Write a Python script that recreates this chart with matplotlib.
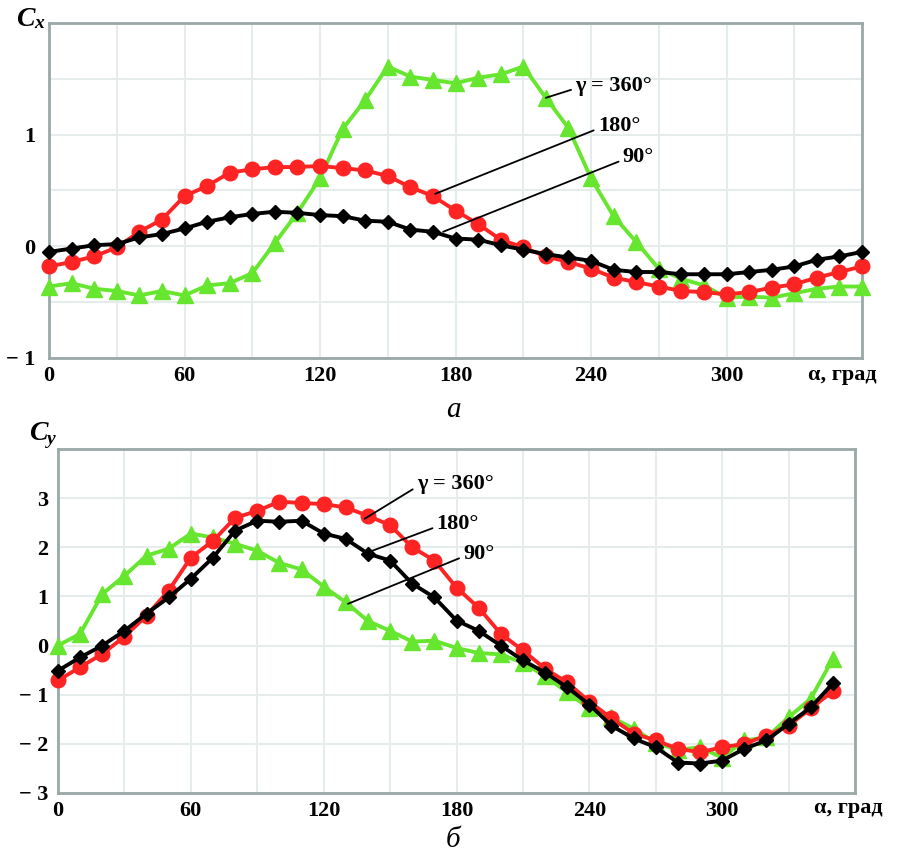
import numpy as np
import matplotlib
matplotlib.use('Agg')
import matplotlib.pyplot as plt

plt.rcParams['font.family'] = ['Liberation Serif', 'DejaVu Serif']

# Angle of attack, deg
alpha_x = np.arange(0, 361, 10)
alpha_y = np.arange(0, 351, 10)

# C_x (panel a)
cx_360 = [-0.36, -0.33, -0.38, -0.40, -0.44, -0.40, -0.44, -0.35, -0.33, -0.24,
          0.03, 0.30, 0.61, 1.05, 1.31, 1.61, 1.52, 1.49, 1.46, 1.51,
          1.54, 1.61, 1.33, 1.06, 0.61, 0.27, 0.04, -0.20, -0.29, -0.35,
          -0.46, -0.45, -0.46, -0.42, -0.38, -0.36, -0.36]
cx_180 = [-0.18, -0.14, -0.09, -0.01, 0.13, 0.24, 0.45, 0.54, 0.66, 0.69,
          0.71, 0.71, 0.72, 0.70, 0.68, 0.63, 0.53, 0.45, 0.32, 0.20,
          0.06, -0.01, -0.09, -0.14, -0.20, -0.28, -0.32, -0.36, -0.40, -0.41,
          -0.43, -0.41, -0.37, -0.34, -0.28, -0.23, -0.18]
cx_90 = [-0.05, -0.02, 0.01, 0.02, 0.08, 0.11, 0.16, 0.22, 0.26, 0.29,
         0.31, 0.30, 0.28, 0.27, 0.23, 0.22, 0.15, 0.13, 0.07, 0.06,
         0.01, -0.03, -0.07, -0.10, -0.13, -0.21, -0.23, -0.23, -0.25, -0.25,
         -0.25, -0.23, -0.21, -0.18, -0.12, -0.09, -0.05]

# C_y (panel b)
cy_360 = [0.00, 0.24, 1.05, 1.42, 1.83, 1.97, 2.28, 2.20, 2.07, 1.93,
          1.68, 1.55, 1.20, 0.88, 0.50, 0.30, 0.08, 0.10, -0.05, -0.15,
          -0.18, -0.35, -0.62, -0.95, -1.28, -1.46, -1.69, -1.98, -2.12, -2.07,
          -2.28, -1.93, -1.87, -1.46, -1.08, -0.27]
cy_180 = [-0.71, -0.44, -0.17, 0.18, 0.61, 1.12, 1.79, 2.13, 2.60, 2.74,
          2.93, 2.90, 2.88, 2.81, 2.64, 2.45, 2.00, 1.73, 1.18, 0.77,
          0.24, -0.10, -0.47, -0.75, -1.14, -1.48, -1.79, -1.93, -2.10, -2.17,
          -2.07, -2.00, -1.83, -1.63, -1.28, -0.93]
cy_90 = [-0.51, -0.24, 0.00, 0.30, 0.65, 0.98, 1.36, 1.79, 2.34, 2.54,
         2.52, 2.54, 2.28, 2.17, 1.87, 1.73, 1.26, 0.98, 0.51, 0.30,
         0.00, -0.30, -0.55, -0.85, -1.20, -1.63, -1.89, -2.07, -2.38, -2.40,
         -2.34, -2.10, -1.93, -1.59, -1.26, -0.77]

x_labels = ['0', '60', '120', '180', '240', '300']

GREEN = '#66e62e'
RED = '#ff2424'
SPINE = '#9aa8a8'
GRID = '#e6ebeb'
FS = 16

W, H = 901, 852
fig = plt.figure(figsize=(W / 100, H / 100), dpi=100)


def px_axes(l, t, r, b):
    return fig.add_axes([l / W, 1 - b / H, (r - l) / W, (b - t) / H])


def style(ax, ylim, yticks, ylabels, ypad):
    ax.set_xlim(0, 360)
    ax.set_ylim(*ylim)
    ax.set_xticks(np.arange(0, 361, 30))
    ax.set_xticklabels([x_labels[i // 2] if i % 2 == 0 and i < 12 else ''
                        for i in range(13)])
    ax.set_yticks(yticks)
    ax.set_yticklabels(ylabels)
    ax.tick_params(length=0, labelsize=FS)
    ax.tick_params(axis='x', pad=6)
    ax.tick_params(axis='y', pad=ypad)
    for lab in ax.get_xticklabels() + ax.get_yticklabels():
        lab.set_fontweight('bold')
    ax.grid(True, color=GRID, lw=1.5)
    ax.set_axisbelow(True)
    for s in ax.spines.values():
        s.set_color(SPINE)
        s.set_linewidth(2)


def curves(ax, x, g, r, k):
    ax.plot(x, g, color=GREEN, lw=2.8, marker='^', ms=11, zorder=3, clip_on=False)
    ax.plot(x, r, color=RED, lw=2.8, marker='o', ms=10.5, zorder=4, clip_on=False)
    ax.plot(x, k, color='black', lw=2.8, marker='D', ms=7.5, zorder=5, clip_on=False)


def note(ax, text, xy, xytext):
    ax.annotate(text, xy=xy, xytext=xytext, fontsize=FS, fontweight='bold',
                ha='left', va='center',
                arrowprops=dict(arrowstyle='-', color='black', lw=1.3,
                                relpos=(0, 0.35), shrinkA=1, shrinkB=0),
                zorder=6)


# panel a
ax1 = px_axes(49, 23, 862, 358)
curves(ax1, alpha_x, cx_360, cx_180, cx_90)
style(ax1, (-1, 2), np.arange(-1, 2.01, 0.5),
      ['\u2212 1', '', '0', '', '1', '', ''], 10)
note(ax1, '\u03b3 = 360\u00b0', (220, 1.33), (233, 1.44))
note(ax1, '180\u00b0', (171, 0.47), (243, 1.08))
note(ax1, '90\u00b0', (174.5, 0.13), (254, 0.80))

# panel b
ax2 = px_axes(58, 449, 855, 793)
curves(ax2, alpha_y, cy_360, cy_180, cy_90)
style(ax2, (-3, 4), np.arange(-3, 4.01, 1),
      ['\u2212 3', '\u2212 2', '\u2212 1', '0', '1', '2', '3', ''], 7)
note(ax2, '\u03b3 = 360\u00b0', (138.5, 2.58), (162, 3.29))
note(ax2, '180\u00b0', (142, 1.93), (171, 2.48))
note(ax2, '90\u00b0', (131, 0.85), (183, 1.87))


def ftext(x, y, s, **kw):
    fig.text(x / W, 1 - y / H, s, **kw)


# axis names: italic bold C with a smaller subscript
ftext(16, 20, 'C', fontsize=20, style='italic', fontweight='bold', ha='left', va='center')
ftext(34, 24, 'x', fontsize=14, style='italic', fontweight='bold', ha='left', va='center')
ftext(29, 434, 'C', fontsize=20, style='italic', fontweight='bold', ha='left', va='center')
ftext(47, 440, 'y', fontsize=14, style='italic', fontweight='bold', ha='left', va='center')

ftext(842, 375, '\u03b1, \u0433\u0440\u0430\u0434', fontsize=FS, fontweight='bold',
      ha='center', va='center')
ftext(848, 808, '\u03b1, \u0433\u0440\u0430\u0434', fontsize=FS, fontweight='bold',
      ha='center', va='center')
ftext(453, 410, '\u0430', fontsize=21, style='italic', ha='center', va='center')
ftext(453, 840, '\u0431', fontsize=21, style='italic', ha='center', va='center')

fig.savefig('out.png', dpi=100)
